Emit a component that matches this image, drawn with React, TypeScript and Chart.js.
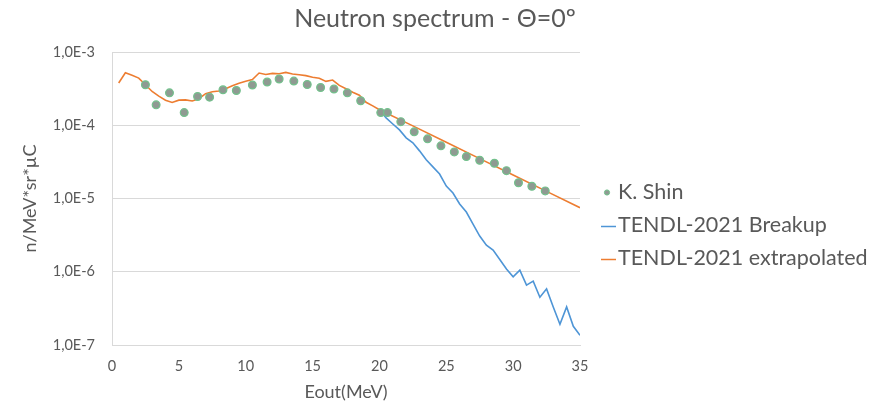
import React, { useEffect, useRef } from 'react';
import { Chart, registerables } from 'chart.js';

Chart.register(...registerables);

const TITLE = 'Neutron spectrum - Θ=0º';
const X_TITLE = 'Eout(MeV)';
const Y_TITLE = 'n/MeV*sr*µC';

const xTickValues = [0, 5, 10, 15, 20, 25, 30, 35];
const yTickValues = [1e-7, 1e-6, 1e-5, 1e-4, 1e-3];
const yTickLabels = ['1,0E-7', '1,0E-6', '1,0E-5', '1,0E-4', '1,0E-3'];

const seriesNames = ['K. Shin', 'TENDL-2021 Breakup', 'TENDL-2021 extrapolated'];

// K. Shin measured points
const shinE = [2.5, 3.3, 4.3, 5.4, 6.4, 7.3, 8.3, 9.3, 10.5, 11.6, 12.5, 13.6, 14.6, 15.6, 16.6, 17.6, 18.6, 20.1, 20.6, 21.6, 22.6, 23.6, 24.6, 25.6, 26.5, 27.5, 28.6, 29.5, 30.4, 31.4, 32.4];
const shinV = [3.57e-4, 1.9e-4, 2.77e-4, 1.49e-4, 2.47e-4, 2.42e-4, 3.05e-4, 2.98e-4, 3.54e-4, 3.89e-4, 4.28e-4, 4.01e-4, 3.6e-4, 3.28e-4, 3.12e-4, 2.77e-4, 2.16e-4, 1.49e-4, 1.49e-4, 1.12e-4, 8.13e-5, 6.52e-5, 5.23e-5, 4.33e-5, 3.73e-5, 3.33e-5, 3.03e-5, 2.4e-5, 1.64e-5, 1.47e-5, 1.27e-5];

// TENDL-2021 Breakup
const breakupE = [20, 20.5, 21, 21.5, 22, 22.5, 23, 23.5, 24, 24.5, 25, 25.5, 26, 26.5, 27, 27.5, 28, 28.5, 29, 29.5, 30, 30.5, 31, 31.5, 32, 32.5, 33, 33.5, 34, 34.5, 35];
const breakupV = [1.63e-4, 1.26e-4, 1.04e-4, 8.65e-5, 6.73e-5, 5.75e-5, 4.47e-5, 3.37e-5, 2.7e-5, 2.16e-5, 1.48e-5, 1.19e-5, 8.41e-6, 6.53e-6, 4.48e-6, 3.07e-6, 2.31e-6, 1.98e-6, 1.47e-6, 1.09e-6, 8.52e-7, 1.05e-6, 6.56e-7, 7.44e-7, 4.49e-7, 5.84e-7, 3.31e-7, 1.92e-7, 3.31e-7, 1.8e-7, 1.36e-7];

// TENDL-2021 extrapolated
const extrapE = [0.5, 1, 1.5, 2, 2.5, 3, 3.5, 4, 4.5, 5, 5.5, 6, 6.5, 7, 7.5, 8, 8.5, 9, 9.5, 10, 10.5, 11, 11.5, 12, 12.5, 13, 13.5, 14, 14.5, 15, 15.5, 16, 16.5, 17, 17.5, 18, 18.5, 19, 19.5, 20, 22.5, 25, 27.5, 30, 32.5, 35];
const extrapV = [3.77e-4, 5.21e-4, 4.8e-4, 4.4e-4, 3.57e-4, 2.89e-4, 2.5e-4, 2.2e-4, 2.05e-4, 2.2e-4, 2.22e-4, 2.14e-4, 2.3e-4, 2.7e-4, 2.87e-4, 2.93e-4, 3.15e-4, 3.45e-4, 3.75e-4, 3.98e-4, 4.2e-4, 5.16e-4, 4.94e-4, 5.1e-4, 5.05e-4, 5.26e-4, 5.0e-4, 4.9e-4, 4.76e-4, 4.52e-4, 4.38e-4, 3.97e-4, 4.14e-4, 3.5e-4, 3.15e-4, 2.82e-4, 2.57e-4, 2.06e-4, 1.84e-4, 1.63e-4, 9.8e-5, 5.85e-5, 3.5e-5, 2.09e-5, 1.25e-5, 7.48e-6];

const TEXT = '#595959';
const GRID = '#d9d9d9';
const FONT = 'Lato';

const toPoints = (xs: number[], ys: number[]) => xs.map((x, i) => ({ x, y: ys[i] }));

const sideLegend = {
  id: 'sideLegend',
  afterDraw(chart: any) {
    const ctx = chart.ctx;
    const area = chart.chartArea;
    const x0 = area.right + 38;
    const y0 = 192.5;
    const step = 33;
    ctx.save();
    ctx.font = `21.5px ${FONT}`;
    ctx.textBaseline = 'middle';
    ctx.textAlign = 'left';
    chart.data.datasets.forEach((ds: any, i: number) => {
      const y = y0 + i * step;
      if (ds.showLine) {
        ctx.strokeStyle = ds.borderColor;
        ctx.lineWidth = 1.5;
        ctx.beginPath();
        ctx.moveTo(x0 - 17, y + 1);
        ctx.lineTo(x0 - 2, y + 1);
        ctx.stroke();
      } else {
        ctx.fillStyle = ds.backgroundColor;
        ctx.strokeStyle = ds.borderColor;
        ctx.lineWidth = 1;
        ctx.beginPath();
        ctx.arc(x0 - 11, y, 2.6, 0, Math.PI * 2);
        ctx.fill();
        ctx.stroke();
      }
      ctx.fillStyle = TEXT;
      ctx.fillText(ds.label, x0, y);
    });
    ctx.restore();
  },
};

export default function App() {
  const canvasRef = useRef<HTMLCanvasElement | null>(null);

  useEffect(() => {
    if (!canvasRef.current) return;
    const chart = new Chart(canvasRef.current, {
      type: 'scatter',
      data: {
        datasets: [
          {
            label: seriesNames[0],
            data: toPoints(shinE, shinV),
            showLine: false,
            pointRadius: 3.9,
            pointHoverRadius: 3.9,
            backgroundColor: '#8f9a92',
            borderColor: '#72c28c',
            borderWidth: 1.2,
          },
          {
            label: seriesNames[1],
            data: toPoints(breakupE, breakupV),
            showLine: true,
            pointRadius: 0,
            borderColor: '#4e95d6',
            backgroundColor: '#4e95d6',
            borderWidth: 1.6,
            tension: 0,
          },
          {
            label: seriesNames[2],
            data: toPoints(extrapE, extrapV),
            showLine: true,
            pointRadius: 0,
            borderColor: '#ED7D31',
            backgroundColor: '#ED7D31',
            borderWidth: 1.6,
            tension: 0,
          },
        ],
      },
      options: {
        animation: false,
        responsive: true,
        maintainAspectRatio: false,
        layout: { padding: 0 },
        plugins: {
          legend: { display: false },
          tooltip: { enabled: false },
          title: {
            display: true,
            text: TITLE,
            color: TEXT,
            font: { family: FONT, size: 25, weight: 'normal' },
            padding: { top: 4, bottom: 18 },
          },
        },
        scales: {
          x: {
            type: 'linear',
            min: 0,
            max: 35,
            afterBuildTicks: (scale: any) => {
              scale.ticks = xTickValues.map((v) => ({ value: v }));
            },
            afterFit: (scale: any) => {
              scale.height = 60;
            },
            grid: { display: false, drawTicks: false },
            border: { display: true, color: GRID, width: 1 },
            ticks: {
              color: TEXT,
              font: { family: FONT, size: 14.5 },
              padding: 13,
              maxRotation: 0,
              callback: (v: any) => String(v),
            },
            title: {
              display: true,
              text: X_TITLE,
              color: TEXT,
              font: { family: FONT, size: 18 },
              padding: { top: 0, bottom: 2 },
            },
          },
          y: {
            type: 'logarithmic',
            min: 1e-7,
            max: 1e-3,
            afterBuildTicks: (scale: any) => {
              scale.ticks = yTickValues.map((v) => ({ value: v }));
            },
            afterFit: (scale: any) => {
              scale.width = 112;
            },
            grid: { display: true, color: GRID, lineWidth: 1, drawTicks: false },
            border: { display: true, color: GRID, width: 1 },
            ticks: {
              color: TEXT,
              font: { family: FONT, size: 14.5 },
              padding: 17,
              callback: (v: any) => {
                const idx = yTickValues.findIndex((t) => Math.abs(Math.log10(t) - Math.log10(v)) < 1e-6);
                return idx >= 0 ? yTickLabels[idx] : '';
              },
            },
            title: {
              display: true,
              text: Y_TITLE,
              color: TEXT,
              font: { family: FONT, size: 18 },
              padding: { top: 19, bottom: 0 },
            },
          },
          legendSpace: {
            type: 'linear',
            position: 'right',
            display: true,
            afterFit: (scale: any) => {
              scale.width = 290;
            },
            grid: { display: false, drawTicks: false },
            border: { display: false },
            ticks: { display: false },
          },
        },
      },
      plugins: [sideLegend],
    });
    return () => chart.destroy();
  }, []);

  return (
    <div style={{ position: 'absolute', left: 0, top: 0, width: 870, height: 405, background: '#ffffff' }}>
      <canvas ref={canvasRef} />
    </div>
  );
}
